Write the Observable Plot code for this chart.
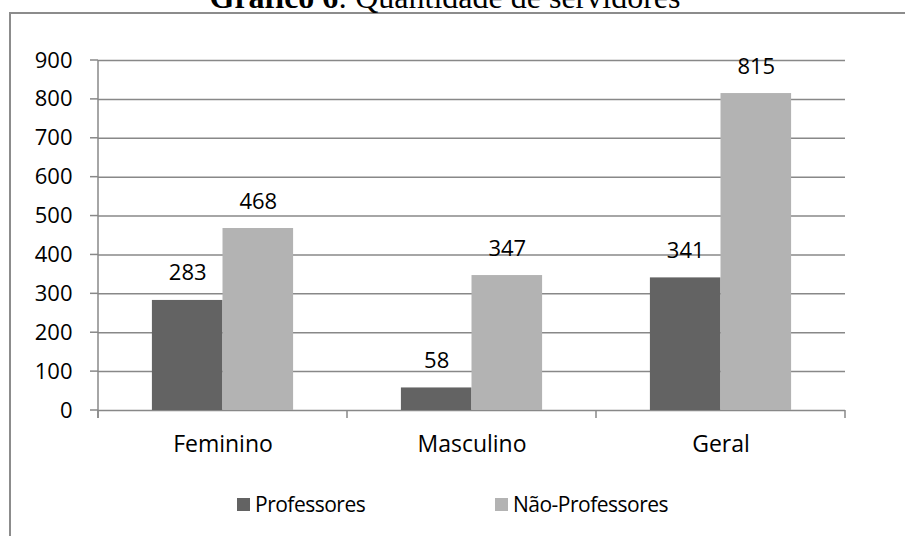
<!DOCTYPE html>
<html>
<head>
<meta charset="utf-8">
<script src="https://cdn.jsdelivr.net/npm/d3@7"></script>
<script src="https://cdn.jsdelivr.net/npm/@observablehq/plot@0.6"></script>
<style>
  html, body { margin: 0; padding: 0; background: #fff; }
  #wrap { position: relative; width: 905px; height: 536px; overflow: hidden; background: #fff; }
  #box { position: absolute; left: 9px; top: 12px; width: 1000px; height: 700px; border: 2px solid #8c8c8c; box-sizing: border-box; }
  #title { position: absolute; left: 0; width: 890px; top: -19px; text-align: center; font-family: "Liberation Serif", "Times New Roman", serif; font-size: 32px; line-height: 32px; color: #000; white-space: nowrap; }
  #chart { position: absolute; left: 0; top: 0; }
  .leg { position: absolute; font-family: "Open Sans", sans-serif; font-size: 21px; letter-spacing: -0.5px; line-height: 21px; color: #000; white-space: nowrap; }
  .sw { position: absolute; width: 13px; height: 13px; }
</style>
</head>
<body>
<div id="wrap">
  <div id="box"></div>
  <div id="title"><b>Gráfico 6</b>: Quantidade de servidores</div>
  <div id="chart"></div>
  <div id="legend"></div>
</div>
<script>
const categories = ["Feminino", "Masculino", "Geral"];
const series = ["Professores", "Não-Professores"];
const professores = [283, 58, 341];
const naoProfessores = [468, 347, 815];
const yTicks = [0, 100, 200, 300, 400, 500, 600, 700, 800, 900];
const seriesColors = ["#636363", "#b3b3b3"];

const rows = [];
categories.forEach((c, i) => {
  rows.push({category: c, series: series[0], value: professores[i]});
  rows.push({category: c, series: series[1], value: naoProfessores[i]});
});

const gray = "#888888";

const plot = Plot.plot({
  width: 905,
  height: 470,
  marginLeft: 98,
  marginRight: 60,
  marginTop: 60,
  marginBottom: 60,
  style: {fontFamily: "'Open Sans', sans-serif", fontSize: "22px", color: "black", background: "transparent", overflow: "visible"},
  facet: {data: rows, x: "category"},
  fx: {domain: categories, padding: 0, round: false, axis: "bottom", tickSize: 0, tickPadding: 25, label: null},
  x: {domain: series, paddingInner: 0, paddingOuter: 0.7635, round: false, axis: null},
  y: {domain: [0, 900], ticks: yTicks, tickSize: 0, tickPadding: 26, label: null},
  color: {domain: series, range: seriesColors},
  marks: [
    Plot.ruleY(yTicks, {stroke: gray, strokeWidth: 1.5}),
    Plot.barY(rows, {x: "series", y: "value", fill: "series"}),
    Plot.text(rows, {x: "series", y: "value", text: d => String(d.value), dy: -27, fontSize: 22, fill: "black"})
  ]
});
document.getElementById("chart").appendChild(plot);

const svgEl = plot.tagName.toLowerCase() === "svg" ? plot : plot.querySelector("svg");
// category labels slightly larger than tick labels
d3.select(svgEl).selectAll('[aria-label^="fx-axis"] text').attr("font-size", 23).style("font-size", "23px");

// axis lines and boundary ticks drawn from the library's scales
const fxs = plot.scale("fx");
const ys = plot.scale("y");
const fx = d3.scaleBand().domain(fxs.domain).range(fxs.range)
  .paddingInner(fxs.paddingInner ?? 0).paddingOuter(fxs.paddingOuter ?? 0).align(fxs.align ?? 0.5);
const y = d3.scaleLinear().domain(ys.domain).range(ys.range);
const svg = d3.select(svgEl);
const g = svg.append("g").attr("stroke", gray).attr("stroke-width", 1.5).attr("fill", "none");
const x0 = fx(categories[0]);
const y0 = y(0);
g.append("line").attr("x1", x0).attr("x2", x0).attr("y1", y(yTicks[yTicks.length - 1])).attr("y2", y0 + 8);
yTicks.forEach(t => {
  g.append("line").attr("x1", x0 - 8).attr("x2", x0).attr("y1", y(t)).attr("y2", y(t));
});
const bounds = categories.map(c => fx(c)).concat([fx(categories[categories.length - 1]) + fx.bandwidth()]);
bounds.forEach(b => {
  g.append("line").attr("x1", b).attr("x2", b).attr("y1", y0).attr("y2", y0 + 8);
});

// legend
const legend = document.getElementById("legend");
const legendX = [237, 495];
series.forEach((s, i) => {
  const sw = document.createElement("div");
  sw.className = "sw";
  sw.style.left = legendX[i] + "px";
  sw.style.top = "498px";
  sw.style.background = plot.scale("color").range[i];
  legend.appendChild(sw);
  const t = document.createElement("div");
  t.className = "leg";
  t.style.left = (legendX[i] + 18) + "px";
  t.style.top = "494px";
  t.textContent = s;
  legend.appendChild(t);
});
</script>
</body>
</html>
